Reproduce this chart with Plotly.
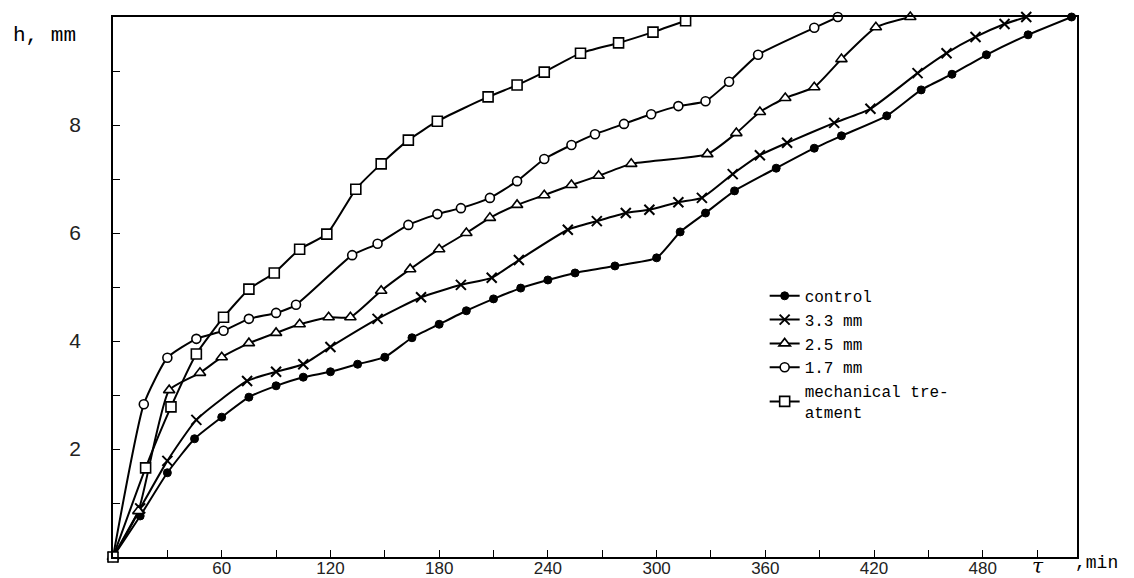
import plotly.graph_objects as go

# ---- data (time, min ; height, mm) ----
control_t = [0, 15, 30, 45, 60, 75, 90, 105, 120, 135, 150, 165, 180, 195, 210, 225, 240, 255,
             277, 300, 313, 327, 343, 366, 387, 402, 427, 446, 463, 482, 505, 529]
control_h = [0, 0.76, 1.56, 2.19, 2.59, 2.96, 3.17, 3.33, 3.43, 3.57, 3.70, 4.06, 4.31, 4.56, 4.78,
             4.98, 5.13, 5.26, 5.39, 5.54, 6.02, 6.37, 6.78, 7.20, 7.57, 7.80, 8.17, 8.65, 8.94,
             9.30, 9.67, 10.0]

mm33_t = [0, 15, 30, 46, 74, 90, 105, 120, 146, 170, 192, 209, 224, 251, 267, 283, 296, 312, 325,
          342, 357, 372, 398, 418, 444, 460, 476, 492, 504]
mm33_h = [0, 0.90, 1.78, 2.54, 3.26, 3.43, 3.57, 3.89, 4.41, 4.81, 5.04, 5.17, 5.50, 6.06, 6.22,
          6.37, 6.43, 6.57, 6.65, 7.09, 7.44, 7.67, 8.04, 8.30, 8.96, 9.33, 9.63, 9.87, 10.0]

mm25_t = [0, 14, 31, 48, 60, 75, 90, 103, 119, 131, 148, 164, 180, 195, 208, 223, 238, 253, 268,
          286, 328, 344, 357, 371, 387, 402, 421, 440]
mm25_h = [0, 0.85, 3.09, 3.41, 3.70, 3.96, 4.15, 4.31, 4.44, 4.44, 4.93, 5.33, 5.70, 6.00, 6.28,
          6.52, 6.70, 6.89, 7.06, 7.28, 7.46, 7.85, 8.24, 8.50, 8.70, 9.22, 9.81, 10.0]

mm17_t = [0, 17, 30, 46, 61, 75, 90, 101, 132, 146, 163, 179, 192, 208, 223, 238, 253, 266, 282,
          297, 312, 327, 340, 356, 387, 400]
mm17_h = [0, 2.83, 3.69, 4.04, 4.19, 4.41, 4.52, 4.67, 5.59, 5.80, 6.15, 6.35, 6.46, 6.65, 6.96,
          7.37, 7.63, 7.83, 8.02, 8.20, 8.35, 8.44, 8.80, 9.30, 9.80, 10.0]

mech_t = [0, 18, 32, 46, 61, 75, 89, 103, 118, 134, 148, 163, 179, 207, 223, 238, 258, 279, 298, 316]
mech_h = [0, 1.65, 2.78, 3.76, 4.44, 4.96, 5.26, 5.70, 5.98, 6.81, 7.28, 7.72, 8.07, 8.52, 8.74,
          8.98, 9.33, 9.52, 9.72, 9.93]

x_ticks = [30, 60, 90, 120, 150, 180, 210, 240, 270, 300, 330, 360, 390, 420, 450, 480, 510]
x_labels = ["", "60", "", "120", "", "180", "", "240", "", "300", "", "360", "", "420", "", "480", ""]
y_ticks = [1, 2, 3, 4, 5, 6, 7, 8, 9]
y_labels = ["", "2", "", "4", "", "6", "", "8", ""]

series = [
    ("control", control_t, control_h, dict(symbol="circle", size=8, color="black",
                                           line=dict(color="black", width=1))),
    ("3.3 mm", mm33_t, mm33_h, dict(symbol="x-thin", size=10, color="black",
                                    line=dict(color="black", width=2))),
    ("2.5 mm", mm25_t, mm25_h, dict(symbol="triangle-up", size=10, color="white",
                                    line=dict(color="black", width=1.6))),
    ("1.7 mm", mm17_t, mm17_h, dict(symbol="circle", size=9, color="white",
                                    line=dict(color="black", width=1.6))),
    ("mechanical tre-<br>atment", mech_t, mech_h, dict(symbol="square", size=10, color="white",
                                                       line=dict(color="black", width=1.6))),
]

fig = go.Figure()
for name, t, h, mk in series:
    fig.add_trace(go.Scatter(
        x=t, y=h, name=name, mode="lines+markers",
        line=dict(color="black", width=2, shape="spline", smoothing=0.5),
        marker=mk, cliponaxis=False,
    ))

mono = "Liberation Mono"
sans = "Liberation Sans"

fig.update_layout(
    width=1134, height=578,
    margin=dict(l=105, r=65, t=9, b=29),
    paper_bgcolor="white", plot_bgcolor="white",
    showlegend=True,
    legend=dict(
        x=0.676, y=0.515, xanchor="left", yanchor="top",
        font=dict(family=mono, size=16, color="black"),
        bgcolor="rgba(0,0,0,0)", tracegroupgap=0, itemwidth=30,
    ),
    xaxis=dict(
        range=[0, 532], showline=True, linecolor="black", linewidth=1.6, mirror=True,
        ticks="inside", ticklen=7, tickcolor="black", tickwidth=1.4,
        tickvals=x_ticks, ticktext=x_labels, automargin=False,
        tickfont=dict(family=sans, size=17, color="#222"),
        showgrid=False, zeroline=False, ticklabelstandoff=-5,
    ),
    yaxis=dict(
        range=[0, 10], showline=True, linecolor="black", linewidth=1.6, mirror=True,
        ticks="inside", ticklen=7, tickcolor="black", tickwidth=1.4,
        tickvals=y_ticks, ticktext=y_labels, automargin=False,
        tickfont=dict(family=sans, size=21, color="#222"),
        showgrid=False, zeroline=False, ticklabelstandoff=26,
    ),
    annotations=[
        dict(text="h, mm", xref="paper", yref="paper", x=-0.106, y=0.965,
             xanchor="left", yanchor="middle", showarrow=False,
             font=dict(family=mono, size=21, color="black")),
        dict(text="<i>τ</i>", xref="paper", yref="paper", x=0.96, y=-0.017,
             xanchor="center", yanchor="middle", showarrow=False,
             font=dict(family="DejaVu Serif", size=20, color="black")),
        dict(text=",min", xref="paper", yref="paper", x=0.996, y=-0.012,
             xanchor="left", yanchor="middle", showarrow=False,
             font=dict(family=mono, size=18, color="black")),
    ],
)

fig.write_html("out.html")
